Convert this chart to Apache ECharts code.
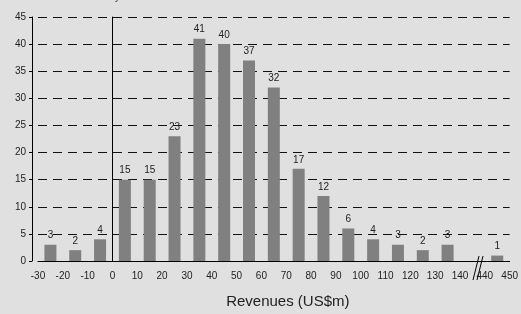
<!DOCTYPE html>
<html>
<head>
<meta charset="utf-8">
<script src="https://cdn.jsdelivr.net/npm/echarts@6/dist/echarts.min.js"></script>
<style>
  html, body { margin: 0; padding: 0; background: #e0e0e0; }
  #chart { width: 521px; height: 314px; }
</style>
</head>
<body>
<div id="chart"></div>
<script>
// revenue buckets, one slot per bar (the empty slot is the 140..440 break)
var buckets = ["-30..-20", "-20..-10", "-10..0", "0..10", "10..20", "20..30", "30..40", "40..50",
  "50..60", "60..70", "70..80", "80..90", "90..100", "100..110", "110..120", "120..130",
  "130..140", "140..440", "440..450"];
var counts = [3, 2, 4, 15, 15, 23, 41, 40, 37, 32, 17, 12, 6, 4, 3, 2, 3, null, 1];
// labels sit on the bucket boundaries
var boundaryLabels = ["-30", "-20", "-10", "0", "10", "20", "30", "40", "50", "60", "70",
  "80", "90", "100", "110", "120", "130", "140", "440", "450"];
var yTicks = [0, 5, 10, 15, 20, 25, 30, 35, 40, 45];

var font = "'Liberation Sans', Arial, sans-serif";

var chart = echarts.init(document.getElementById("chart"));
var option = {
  backgroundColor: "#e0e0e0",
  animation: false,
  grid: { left: 38, right: 4, top: 17, bottom: 47 },
  xAxis: [
    {
      type: "category",
      data: buckets,
      axisLine: { show: false },
      axisTick: { show: false },
      axisLabel: { show: false }
    },
    {
      type: "value",
      min: -3,
      max: boundaryLabels.length - 4,
      interval: 1,
      position: "bottom",
      splitLine: { show: false },
      axisLine: { show: true, onZero: false, lineStyle: { color: "#000", width: 1 } },
      axisTick: { show: false },
      axisLabel: {
        color: "#222",
        fontSize: 10,
        fontFamily: font,
        margin: 10,
        formatter: function (v) { return boundaryLabels[Math.round(v) + 3]; }
      },
      name: "Revenues (US$m)",
      nameLocation: "middle",
      nameGap: 33,
      nameTextStyle: { color: "#222", fontSize: 15, fontFamily: font, padding: [0, 0, 0, 28] }
    }
  ],
  yAxis: [
    {
      type: "value",
      min: yTicks[0],
      max: yTicks[yTicks.length - 1],
      interval: 5,
      position: "left",
      offset: 6,
      axisLine: { show: true, onZero: false, lineStyle: { color: "#000", width: 1 } },
      axisTick: { show: true, length: 3, lineStyle: { color: "#000" } },
      axisLabel: { color: "#222", fontSize: 10, fontFamily: font, margin: 6 },
      splitLine: {
        show: true,
        lineStyle: { color: "#111", type: [9, 6], width: 1 }
      }
    },
    {
      type: "value",
      min: yTicks[0],
      max: yTicks[yTicks.length - 1],
      interval: 5,
      position: "left",
      axisLine: { show: true, onZero: true, onZeroAxisIndex: 1, lineStyle: { color: "#000", width: 1 } },
      axisTick: { show: false },
      axisLabel: { show: false },
      splitLine: { show: false }
    }
  ],
  series: [
    {
      type: "bar",
      xAxisIndex: 0,
      yAxisIndex: 0,
      data: counts,
      barWidth: 12,
      itemStyle: { color: "#808080" },
      label: {
        show: true,
        position: "top",
        distance: 4,
        color: "#222",
        fontSize: 10,
        fontFamily: font
      }
    }
  ],
  graphic: [
    {
      type: "text",
      left: 50,
      top: -10,
      style: { text: "No. of surveys", fill: "#666", font: "12px 'Liberation Sans', Arial, sans-serif" }
    },
    { type: "line", shape: { x1: 473, y1: 280, x2: 479, y2: 256 }, style: { stroke: "#000", lineWidth: 1 } },
    { type: "line", shape: { x1: 477, y1: 280, x2: 483, y2: 256 }, style: { stroke: "#000", lineWidth: 1 } }
  ]
};
chart.setOption(option);
</script>
</body>
</html>
